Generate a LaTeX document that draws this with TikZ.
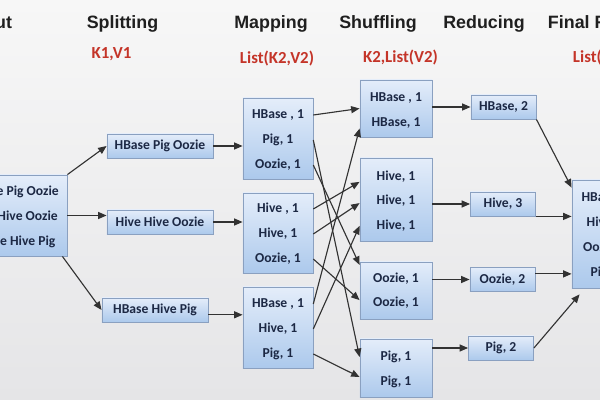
\documentclass[tikz,border=0pt]{standalone}
\usepackage{fontspec}
\setmainfont{Carlito}
\newfontfamily\headfont{Liberation Sans}
\usetikzlibrary{arrows.meta}

\definecolor{bgtop}{RGB}{247,247,247}
\definecolor{bgbot}{RGB}{229,229,231}
\definecolor{boxtop}{RGB}{228,237,250}
\definecolor{boxbot}{RGB}{172,201,236}
\definecolor{boxline}{RGB}{138,160,192}
\definecolor{boxtext}{RGB}{28,40,68}
\definecolor{keyred}{RGB}{196,52,40}
\definecolor{wire}{RGB}{50,50,50}

\tikzset{
  box/.style={draw=boxline, line width=0.6pt, top color=boxtop, bottom color=boxbot,
    inner sep=0pt, text=boxtext, font=\bfseries\fontsize{9.7}{11}\selectfont},
  row/.style={inner sep=0pt, text=boxtext, font=\bfseries\fontsize{9.7}{11}\selectfont,
    text height=6.5pt, text depth=2pt},
  maprow/.style={row, minimum width=1.75cm},
  head/.style={font=\headfont\bfseries\fontsize{12.7}{14}\selectfont, text=black!88},
  key/.style={text=keyred, font=\bfseries\fontsize{12}{14}\selectfont},
  arr/.style={draw=wire, line width=0.8pt, -{Triangle[length=6pt,width=5pt]}},
}

\begin{document}
\begin{tikzpicture}[x=0.025cm, y=-0.025cm]
  \useasboundingbox (0,0) rectangle (600,400);
  \clip (0,0) rectangle (600,400);
  \shade[top color=bgtop, bottom color=bgbot] (0,0) rectangle (600,400);

  % column headings
  \node[head, anchor=base east] (hin) at (17,29) {Input};
  \node[head, anchor=base] (hsplit) at (122.5,29) {Splitting};
  \node[head, anchor=base] (hmap) at (271,29) {Mapping};
  \node[head, anchor=base] (hshuf) at (378,29) {Shuffling};
  \node[head, anchor=base] (hred) at (484,29) {Reducing};
  \node[head, anchor=base west] (hfin) at (543,29) {Final Result};

  % key/value types
  \node[key, anchor=base] (ksplit) at (111.5,59) {K1,V1};
  \node[key, anchor=base] (kmap) at (277,64) {List(K2,V2)};
  \node[key, anchor=base] (kshuf) at (400.5,63) {K2,List(V2)};
  \node[key, anchor=base west] (kfin) at (568,63) {List(K3,V3)};

  % input
  \node[box, minimum width=2.675cm, minimum height=2.025cm] (in) at (13.5,215.5) {};
  \node[row] (ina) at (13.5,192) {HBase Pig Oozie};
  \node[row] (inb) at (13.5,217) {Hive Hive Oozie};
  \node[row] (inc) at (13.5,242) {HBase Hive Pig};

  % splitting
  \node[box, minimum width=2.65cm, minimum height=0.6cm] (sp1) at (160,146) {HBase Pig Oozie};
  \node[box, minimum width=2.65cm, minimum height=0.6cm] (sp2) at (160,222) {Hive Hive Oozie};
  \node[box, minimum width=2.65cm, minimum height=0.6cm] (sp3) at (155,310) {HBase Hive Pig};

  % mapping
  \node[box, minimum width=1.75cm, minimum height=2.025cm] (m1) at (278,138.5) {};
  \node[maprow] (m1a) at (278,115) {HBase , 1};
  \node[maprow] (m1b) at (278,140) {Pig, 1};
  \node[maprow] (m1c) at (278,165) {Oozie, 1};
  \node[box, minimum width=1.75cm, minimum height=2.0cm] (m2) at (278,233) {};
  \node[maprow] (m2a) at (278,209) {Hive , 1};
  \node[maprow] (m2b) at (278,234) {Hive, 1};
  \node[maprow] (m2c) at (278,259) {Oozie, 1};
  \node[box, minimum width=1.75cm, minimum height=2.025cm] (m3) at (278,327.5) {};
  \node[maprow] (m3a) at (278,304) {HBase , 1};
  \node[maprow] (m3b) at (278,329) {Hive, 1};
  \node[maprow] (m3c) at (278,354) {Pig, 1};

  % shuffling
  \node[box, minimum width=1.8cm, minimum height=1.425cm] (s1) at (396,108.5) {};
  \node[row] (s1a) at (396,98) {HBase , 1};
  \node[row] (s1b) at (396,123) {HBase, 1};
  \node[box, minimum width=1.8cm, minimum height=2.075cm] (s2) at (396,199.5) {};
  \node[row] (s2a) at (396,177) {Hive, 1};
  \node[row] (s2b) at (396,201) {Hive, 1};
  \node[row] (s2c) at (396,226) {Hive, 1};
  \node[box, minimum width=1.8cm, minimum height=1.425cm] (s3) at (396,290.5) {};
  \node[row] (s3a) at (396,279) {Oozie, 1};
  \node[row] (s3b) at (396,303) {Oozie, 1};
  \node[box, minimum width=1.8cm, minimum height=1.45cm] (s4) at (396,368) {};
  \node[row] (s4a) at (396,357) {Pig, 1};
  \node[row] (s4b) at (396,382) {Pig, 1};

  % reducing
  \node[box, minimum width=1.625cm, minimum height=0.6cm] (r1) at (503.5,107) {HBase, 2};
  \node[box, minimum width=1.625cm, minimum height=0.6cm] (r2) at (503,204) {Hive, 3};
  \node[box, minimum width=1.625cm, minimum height=0.6cm] (r3) at (502.5,279.5) {Oozie, 2};
  \node[box, minimum width=1.625cm, minimum height=0.6cm] (r4) at (501,348) {Pig, 2};

  % final result
  \node[box, minimum width=1.7cm, minimum height=2.7cm] (fin) at (606,234) {};
  \node[row] (fina) at (606,198) {HBase, 2};
  \node[row] (finb) at (606,223) {Hive, 3};
  \node[row] (finc) at (606,248) {Oozie, 2};
  \node[row] (find) at (606,273) {Pig, 2};

  % input -> splitting
  \draw[arr] (in.north east) -- (sp1.west);
  \draw[arr] (in.east) -- (in.east -| sp2.west);
  \draw[arr] ([xshift=-0.125cm]in.south east) -- (sp3.west);

  % splitting -> mapping
  \draw[arr] (sp1.east) -- (sp1.east -| m1.west);
  \draw[arr] (sp2.east) -- (sp2.east -| m2.west);
  \draw[arr] ([yshift=-0.12cm]sp3.east) -- ([yshift=-0.12cm]sp3.east -| m3.west);

  % mapping -> shuffling
  \draw[arr] (m1a.east) -- (s1.west);
  \draw[arr] (m1b.east) -- ([yshift=0.275cm]s4.west);
  \draw[arr] (m1c.east) -- ([yshift=0.64cm]s3.west);
  \draw[arr] (m2a.east) -- ([yshift=0.44cm]s2.west);
  \draw[arr] (m2b.east) -- ([yshift=-0.09cm]s2.west);
  \draw[arr] (m2c.east) -- ([yshift=-0.24cm]s3.west);
  \draw[arr] (m3a.east) -- ([yshift=-0.5cm]s1.west);
  \draw[arr] (m3b.east) -- ([yshift=-0.66cm]s2.west);
  \draw[arr] (m3c.east) -- ([yshift=-0.225cm]s4.west);

  % shuffling -> reducing
  \draw[arr] (s1.east |- r1.west) -- (r1.west);
  \draw[arr] (s2.east |- r2.west) -- (r2.west);
  \draw[arr] (s3.east |- r3.west) -- (r3.west);
  \draw[arr] (s4.east |- r4.west) -- (r4.west);

  % reducing -> final result
  \draw[arr] (r1.south east) -- ([yshift=-0.2cm]fin.north west);
  \draw[arr] (r2.south east) -- (r2.south east -| fin.west);
  \draw[arr] ([yshift=0.14cm]r3.east) -- ([yshift=0.14cm]r3.east -| fin.west);
  \draw[arr] (r4.east) -- ([xshift=0.2cm,yshift=-0.15cm]fin.south west);
\end{tikzpicture}
\end{document}
